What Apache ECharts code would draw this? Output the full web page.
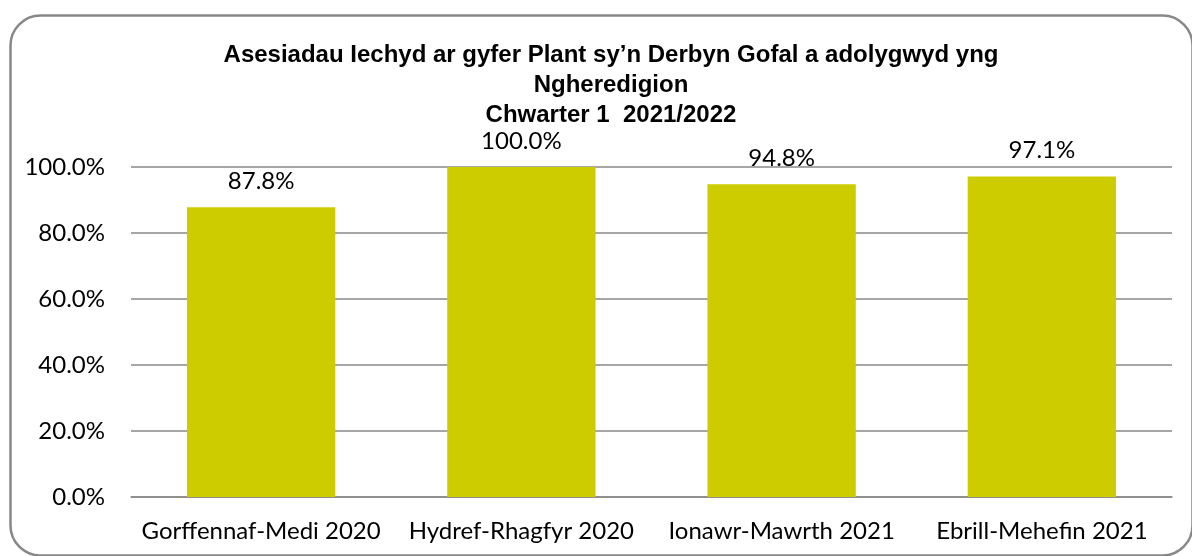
<!DOCTYPE html>
<html>
<head>
<meta charset="utf-8">
<script src="https://cdn.jsdelivr.net/npm/echarts@6/dist/echarts.min.js"></script>
<style>html,body{margin:0;padding:0;background:#fff;}#c{width:1192px;height:556px;}</style>
</head>
<body>
<div id="c"></div>
<script>
const categories = ['Gorffennaf-Medi 2020', 'Hydref-Rhagfyr 2020', 'Ionawr-Mawrth 2021', 'Ebrill-Mehefin 2021'];
const values = [87.8, 100.0, 94.8, 97.1];
const titleLines = ['Asesiadau Iechyd ar gyfer Plant sy\u2019n Derbyn Gofal a adolygwyd yng', 'Ngheredigion', 'Chwarter 1  2021/2022'];

const chart = echarts.init(document.getElementById('c'));
chart.setOption({
  animation: false,
  title: {
    text: titleLines.join('\n'),
    left: 606, top: 35, textAlign: 'center',
    textStyle: { fontFamily: '"Liberation Sans", Arial', fontWeight: 'bold', fontSize: 24, lineHeight: 30, color: '#000' }
  },
  graphic: [{
    type: 'rect', left: 8, top: 13,
    shape: { width: 1182, height: 540, r: 30 },
    style: { fill: 'none', stroke: '#888', lineWidth: 2.5 },
    silent: true
  }],
  grid: { left: 131, right: 20, top: 167, bottom: 59 },
  xAxis: {
    type: 'category', data: categories,
    axisLine: { show: true, lineStyle: { color: '#888', width: 1.5 } },
    axisTick: { show: false },
    axisLabel: { interval: 0, fontFamily: 'Lato, "Noto Sans"', fontSize: 24, color: '#000', margin: 22 }
  },
  yAxis: {
    type: 'value', min: 0, max: 100, interval: 20,
    axisLine: { show: false }, axisTick: { show: false },
    splitLine: { lineStyle: { color: '#888', width: 1.5 } },
    axisLabel: { formatter: v => v.toFixed(1) + '%', fontFamily: 'Lato, "Noto Sans"', fontSize: 24, color: '#000', margin: 26 }
  },
  series: [{
    type: 'bar', data: values, barWidth: '57%',
    itemStyle: { color: '#CCCC00' },
    label: { show: true, position: 'top', distance: 14, formatter: p => p.value.toFixed(1) + '%', fontFamily: 'Lato, "Noto Sans"', fontSize: 24, color: '#000' }
  }]
});
</script>
</body>
</html>
